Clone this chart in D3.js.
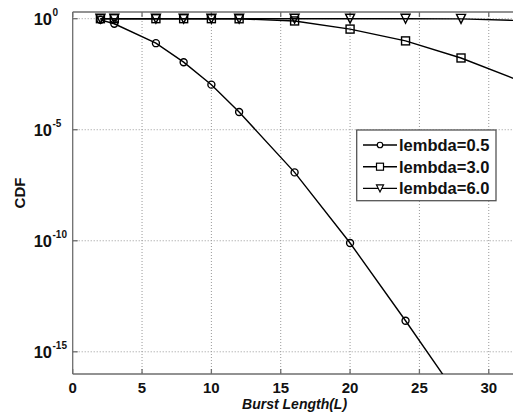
<!DOCTYPE html>
<html>
<head>
<meta charset="utf-8">
<script src="https://cdn.jsdelivr.net/npm/d3@7"></script>
<style>
  body { margin: 0; background: #fff; }
  svg { display: block; font-family: "Liberation Sans", Arial, sans-serif; }
</style>
</head>
<body>
<svg id="chart" width="513" height="415"></svg>
<script>
// burst lengths sampled
const burstLen = [2, 3, 6, 8, 10, 12, 16, 20, 24, 28, 32];
// CDF values
const cdfL05 = [0.89, 0.59, 0.079, 0.011, 1.07e-3, 6.3e-5, 1.2e-7, 7.9e-11, 2.5e-14, 6.3e-18, 1.6e-21];
const cdfL30 = [1, 1, 1, 1, 1, 0.99, 0.79, 0.34, 0.10, 0.017, 1.8e-3];
const cdfL60 = [1, 1, 1, 1, 1, 1, 1, 1, 0.995, 0.98, 0.83];
const seriesNames = ["lembda=0.5", "lembda=3.0", "lembda=6.0"];
const markers = ["circle", "square", "triangle"];
const xTicks = [0, 5, 10, 15, 20, 25, 30];
const yTickExp = [0, -5, -10, -15];

const series = [cdfL05, cdfL30, cdfL60].map((vals, i) => ({
  name: seriesNames[i],
  marker: markers[i],
  points: burstLen.map((x, j) => ({ x: x, y: vals[j] }))
}));

const svg = d3.select("#chart");
const pL = 72.7, pR = 516.5, pT = 12, pB = 374;

const x = d3.scaleLinear().domain([0, 32]).range([pL, pR]);
const y = d3.scaleLog().domain([1e-16, 2]).range([pB, pT]);

svg.append("defs").append("clipPath").attr("id", "plotClip")
  .append("rect").attr("x", pL).attr("y", pT)
  .attr("width", pR - pL).attr("height", pB - pT);

// grid
const grid = svg.append("g").attr("stroke", "#999").attr("stroke-width", 1)
  .attr("stroke-dasharray", "1,2");
grid.selectAll("line.gx").data(xTicks.filter(d => d > 0)).join("line")
  .attr("x1", d => x(d)).attr("x2", d => x(d))
  .attr("y1", pT).attr("y2", pB);
grid.selectAll("line.gy").data(yTickExp).join("line")
  .attr("x1", pL).attr("x2", pR)
  .attr("y1", d => y(Math.pow(10, d))).attr("y2", d => y(Math.pow(10, d)));

// axes frame and inward ticks
const axisColor = "#6e6e6e";
const frame = svg.append("g").attr("stroke", axisColor).attr("stroke-width", 1.3);
frame.append("line").attr("x1", pL).attr("x2", pR).attr("y1", pB).attr("y2", pB);
frame.append("line").attr("x1", pL).attr("x2", pR).attr("y1", pT).attr("y2", pT);
frame.append("line").attr("x1", pL).attr("x2", pL).attr("y1", pT).attr("y2", pB);
frame.selectAll("line.tb").data(xTicks).join("line")
  .attr("x1", d => x(d)).attr("x2", d => x(d)).attr("y1", pB).attr("y2", pB - 5);
frame.selectAll("line.tt").data(xTicks).join("line")
  .attr("x1", d => x(d)).attr("x2", d => x(d)).attr("y1", pT).attr("y2", pT + 5);
frame.selectAll("line.tl").data(yTickExp).join("line")
  .attr("x1", pL).attr("x2", pL + 5)
  .attr("y1", d => y(Math.pow(10, d))).attr("y2", d => y(Math.pow(10, d)));

// tick labels
svg.append("g").selectAll("text").data(xTicks).join("text")
  .attr("x", d => x(d)).attr("y", 393)
  .attr("text-anchor", "middle")
  .attr("font-size", 15).attr("font-weight", "bold").attr("fill", "#111")
  .text(d => d);

const yl = svg.append("g").attr("fill", "#111").attr("font-weight", "bold");
yl.selectAll("text.base").data(yTickExp).join("text")
  .attr("x", 52).attr("y", d => y(Math.pow(10, d)) + 6.5)
  .attr("text-anchor", "end").attr("font-size", 16.5)
  .text("10");
yl.selectAll("text.exp").data(yTickExp).join("text")
  .attr("x", 52.5).attr("y", d => y(Math.pow(10, d)) - 3)
  .attr("font-size", 10)
  .text(d => d === 0 ? "0" : "-" + Math.abs(d));

// axis titles
svg.append("text")
  .attr("transform", `translate(25,${(pT + pB) / 2}) rotate(-90)`)
  .attr("text-anchor", "middle").attr("font-size", 15).attr("font-weight", "bold")
  .attr("fill", "#111").text("CDF");
svg.append("text")
  .attr("x", (pL + pR) / 2).attr("y", 409)
  .attr("text-anchor", "middle").attr("font-size", 14).attr("font-weight", "bold")
  .attr("font-style", "italic").attr("fill", "#111").text("Burst Length(L)");

// marker drawing
function drawMarker(sel, type, s) {
  if (type === "circle") {
    sel.append("circle").attr("r", s / 2);
  } else if (type === "square") {
    sel.append("rect").attr("x", -s / 2).attr("y", -s / 2).attr("width", s).attr("height", s);
  } else {
    const h = s / 2;
    sel.append("path").attr("d", `M${-h},${-h}L${h},${-h}L0,${h}Z`);
  }
}

// series
const plot = svg.append("g").attr("clip-path", "url(#plotClip)");
const line = d3.line().x(d => x(d.x)).y(d => y(d.y));
series.forEach(s => {
  plot.append("path").datum(s.points)
    .attr("d", line).attr("fill", "none")
    .attr("stroke", "#000").attr("stroke-width", 1.4);
  const sz = s.marker === "circle" ? 7 : s.marker === "square" ? 8 : 9;
  // the marker at L=32 sits past the page edge
  plot.selectAll(null).data(s.points.filter(d => x(d.x) < 513)).join("g")
    .attr("transform", d => `translate(${x(d.x)},${y(d.y)})`)
    .attr("fill", "none").attr("stroke", "#000").attr("stroke-width", 1.4)
    .each(function () { drawMarker(d3.select(this), s.marker, sz); });
});

// legend
const lg = svg.append("g");
lg.append("rect").attr("x", 356.7).attr("y", 130).attr("width", 139.3).attr("height", 70.7)
  .attr("fill", "#fff").attr("stroke", "#555").attr("stroke-width", 1.3);
series.forEach((s, i) => {
  const cy = 145 + i * 21.7;
  const row = lg.append("g");
  row.append("line").attr("x1", 363).attr("x2", 397).attr("y1", cy).attr("y2", cy)
    .attr("stroke", "#000").attr("stroke-width", 1.4);
  const m = row.append("g").attr("transform", `translate(380,${cy})`)
    .attr("fill", "#fff").attr("stroke", "#000").attr("stroke-width", 1.2);
  drawMarker(m, s.marker, s.marker === "circle" ? 5.5 : 7);
  row.append("text").attr("x", 399).attr("y", cy + 6)
    .attr("font-size", 16.5).attr("font-weight", "bold").attr("fill", "#111")
    .text(s.name);
});
</script>
</body>
</html>
